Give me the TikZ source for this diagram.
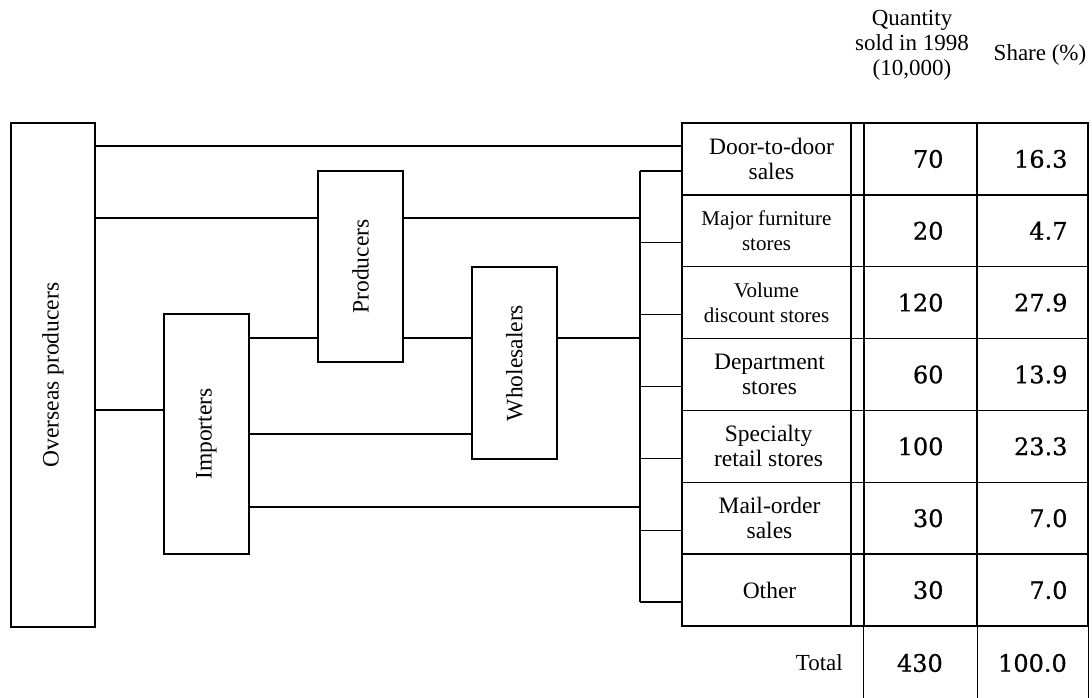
\documentclass[tikz,border=0pt]{standalone}
\usepackage{fontspec}
\setmainfont{Liberation Serif}
\newfontfamily\numfont[FakeBold=0.7]{DejaVu Serif}
\usepackage{graphicx}
\begin{document}
\begin{tikzpicture}[x=1pt,y=-1pt,
  ln/.style={line width=1.4pt},
  bx/.style={draw, line width=1.4pt, inner sep=0pt, minimum width=85pt, font=\fontsize{23.5}{25}\selectfont},
  cell/.style={draw, line width=1.4pt, inner sep=0pt, minimum height=71.86pt, align=center, font=\fontsize{23.5}{25}\selectfont},
  lab/.style={cell, minimum width=169pt},
  gapc/.style={cell, minimum width=13pt},
  qc/.style={cell, minimum width=113pt},
  sc/.style={cell, minimum width=111pt},
  num/.style={inner sep=0pt, anchor=east, font=\numfont\fontsize{24}{26}\selectfont},
  hdr/.style={inner sep=0pt, align=center, font=\fontsize{23}{25}\selectfont},
]
\path[use as bounding box] (0,0) rectangle (1092,698);

% boxes
\node[bx, minimum width=84pt, minimum height=504pt] (over) at (53,375) {\rotatebox{90}{Overseas producers}};
\node[bx, minimum height=191pt] (prod) at (360.5,266.5) {\rotatebox{90}{Producers}};
\node[bx, minimum height=240pt] (imp) at (206.5,434) {\rotatebox{90}{Importers}};
\node[bx, minimum height=192pt] (whole) at (514.5,363) {\rotatebox{90}{Wholesalers}};

% table rows
\node[lab] (r1) at (766.5,158.93) {\hspace*{10pt}Door-to-door\\\hspace*{10pt}sales};
\node[lab, font=\fontsize{21}{25}\selectfont] (r2) at (766.5,230.79) {Major furniture\\stores};
\node[lab, font=\fontsize{21}{25}\selectfont] (r3) at (766.5,302.64) {Volume\\discount stores};
\node[lab] (r4) at (766.5,374.5) {\hspace*{6pt}Department\\\hspace*{6pt}stores};
\node[lab] (r5) at (766.5,446.36) {\hspace*{4pt}Specialty\\\hspace*{4pt}retail stores};
\node[lab] (r6) at (766.5,518.21) {\hspace*{6pt}Mail-order\\\hspace*{6pt}sales};
\node[lab] (r7) at (766.5,590.07) {\hspace*{6pt}Other};

\foreach \i/\y in {1/158.93,2/230.79,3/302.64,4/374.5,5/446.36,6/518.21,7/590.07}{
  \node[gapc] (g\i) at (857.5,\y) {};
  \node[qc] (q\i) at (920.5,\y) {};
  \node[sc] (s\i) at (1032.5,\y) {};
}
\foreach \i/\a/\b in {1/70/16.3,2/20/4.7,3/120/27.9,4/60/13.9,5/100/23.3,6/30/7.0,7/30/7.0}{
  \node[num] (nq\i) at ([xshift=-34pt]q\i.east) {\a};
  \node[num] (ns\i) at ([xshift=-21pt]s\i.east) {\b};
}

% total row
\coordinate (bot) at (0,698);
\draw[ln] (q7.south west) -- (q7.south west |- bot);
\draw[ln] (q7.south east) -- (q7.south east |- bot);
\draw[ln] (s7.south east) -- (s7.south east |- bot);
\node[inner sep=0pt, anchor=east, font=\fontsize{23}{25}\selectfont] (tot) at (843,663) {Total};
\node[num] (nqt) at (943,663) {430};
\node[num] (nst) at (1067,663) {100.0};

% header
\node[hdr] (hq) at (912,45) {Quantity\\sold in 1998\\(10,000)};
\node[hdr] (hs) at (1040,55) {Share (\%)};

% connectors
\coordinate (bus) at (640,0);
\coordinate (ya) at (0,146);
\coordinate (yb) at (0,218);
\coordinate (yc) at (0,338);
\coordinate (yd) at (0,410);
\coordinate (ye) at (0,434);
\coordinate (yf) at (0,507);
\draw[ln] (over.east |- ya) -- (r1.west |- ya);
\draw[ln] (over.east |- yb) -- (prod.west |- yb);
\draw[ln] (prod.east |- yb) -- (bus |- yb);
\draw[ln] (imp.east |- yc) -- (prod.west |- yc);
\draw[ln] (prod.east |- yc) -- (whole.west |- yc);
\draw[ln] (whole.east |- yc) -- (bus |- yc);
\draw[ln] (over.east |- yd) -- (imp.west |- yd);
\draw[ln] (imp.east |- ye) -- (whole.west |- ye);
\draw[ln] (imp.east |- yf) -- (bus |- yf);
\foreach \i in {1,...,7}{
  \coordinate (b\i) at ([yshift=-12pt]r\i.west);
  \draw[ln] (b\i -| bus) -- (b\i);
}
\draw[ln] (b1 -| bus) -- (b7 -| bus);
\end{tikzpicture}
\end{document}
